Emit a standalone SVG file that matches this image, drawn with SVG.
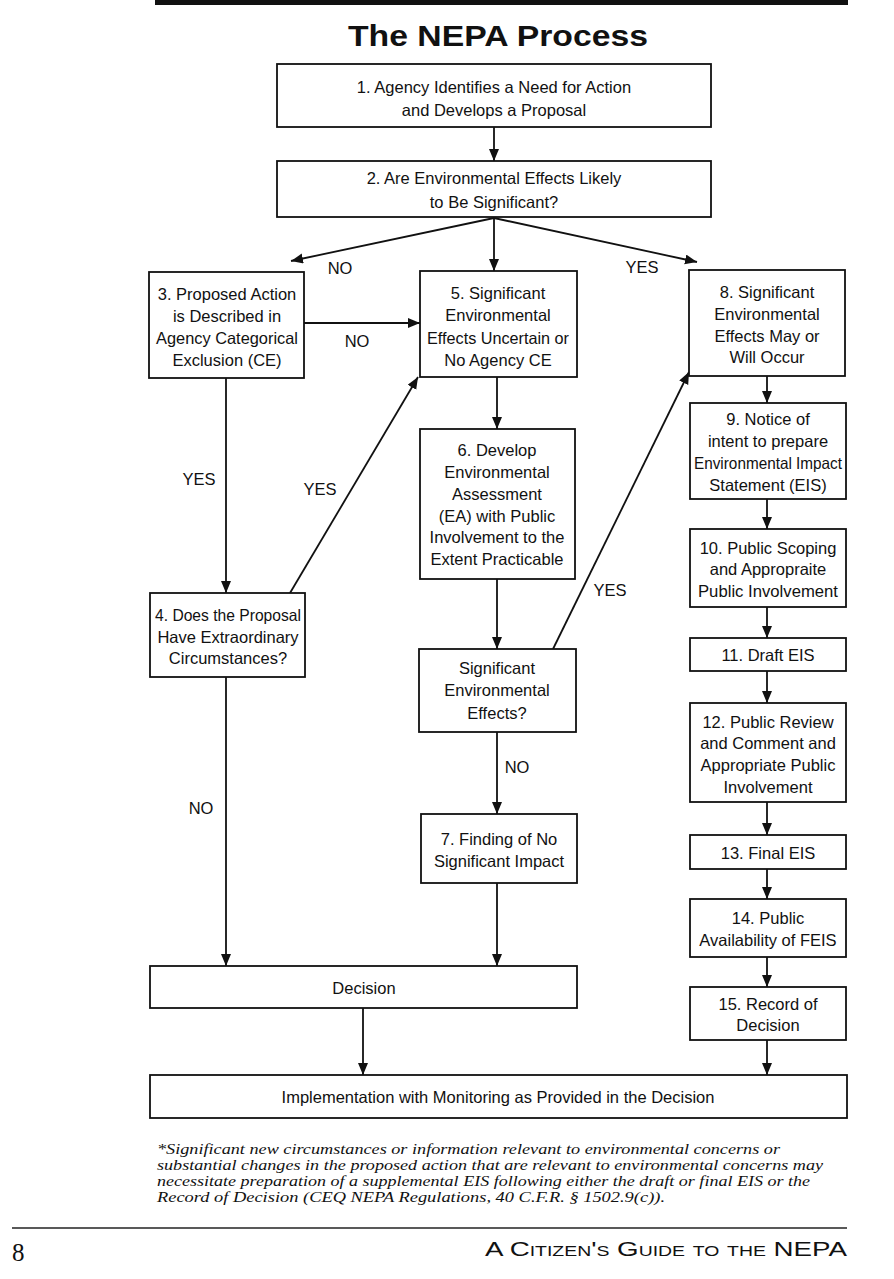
<svg xmlns="http://www.w3.org/2000/svg" width="894" height="1279" viewBox="0 0 894 1279">
<style>
.box{fill:#fff;stroke:#111;stroke-width:1.8}
.t{font-family:"Liberation Sans",Arial,sans-serif;font-size:16.5px;fill:#111;text-anchor:middle}
.c{stroke:#111;stroke-width:1.8;fill:none;marker-end:url(#ah)}
.fn{font-family:"Liberation Serif","Times New Roman",serif;font-style:italic;font-size:14px;fill:#111}
</style>
<defs>
<marker id="ah" markerUnits="userSpaceOnUse" markerWidth="14" markerHeight="12" refX="12" refY="5" orient="auto">
<path d="M0,0 L12,5 L0,10 Z" fill="#111"/>
</marker>
</defs>
<rect width="894" height="1279" fill="#fff"/>
<rect x="155" y="0" width="693" height="5" fill="#111"/>
<text x="498" y="46" font-family="Liberation Sans,Arial,sans-serif" font-weight="bold" font-size="29" fill="#111" text-anchor="middle" textLength="300" lengthAdjust="spacingAndGlyphs">The NEPA Process</text>

<g id="connectors">
<line class="c" x1="494" y1="127" x2="494" y2="161"/>
<line class="c" x1="494" y1="218" x2="291" y2="261"/>
<line class="c" x1="494" y1="218" x2="494" y2="271"/>
<line class="c" x1="494" y1="218" x2="697" y2="262"/>
<line class="c" x1="304" y1="323" x2="420" y2="323"/>
<line class="c" x1="226" y1="378" x2="226" y2="593"/>
<line class="c" x1="290" y1="593" x2="418" y2="377"/>
<line class="c" x1="226" y1="677" x2="226" y2="966"/>
<line class="c" x1="497" y1="377" x2="497" y2="429"/>
<line class="c" x1="497" y1="579" x2="497" y2="649"/>
<line class="c" x1="553" y1="649" x2="689" y2="372"/>
<line class="c" x1="497" y1="732" x2="497" y2="814"/>
<line class="c" x1="497" y1="883" x2="497" y2="966"/>
<line class="c" x1="363" y1="1008" x2="363" y2="1075"/>
<line class="c" x1="767" y1="376" x2="767" y2="403"/>
<line class="c" x1="767" y1="499" x2="767" y2="529"/>
<line class="c" x1="767" y1="607" x2="767" y2="638"/>
<line class="c" x1="767" y1="671" x2="767" y2="703"/>
<line class="c" x1="767" y1="802" x2="767" y2="835"/>
<line class="c" x1="767" y1="869" x2="767" y2="899"/>
<line class="c" x1="767" y1="957" x2="767" y2="987"/>
<line class="c" x1="767" y1="1040" x2="767" y2="1075"/>
<text class="t" x="340" y="274">NO</text>
<text class="t" x="642" y="273">YES</text>
<text class="t" x="357" y="347">NO</text>
<text class="t" x="199" y="485">YES</text>
<text class="t" x="320" y="495">YES</text>
<text class="t" x="610" y="596">YES</text>
<text class="t" x="517" y="773">NO</text>
<text class="t" x="201" y="814">NO</text>
</g>

<g id="n1"><rect class="box" x="277" y="64" width="434" height="63"/>
<text class="t" x="494" y="93">1. Agency Identifies a Need for Action</text>
<text class="t" x="494" y="116">and Develops a Proposal</text></g>

<g id="n2"><rect class="box" x="277" y="161" width="434" height="56"/>
<text class="t" x="494" y="184">2. Are Environmental Effects Likely</text>
<text class="t" x="494" y="208">to Be Significant?</text></g>

<g id="n3"><rect class="box" x="149" y="272" width="155" height="106"/>
<text class="t" x="227" y="300">3. Proposed Action</text>
<text class="t" x="227" y="322">is Described in</text>
<text class="t" x="227" y="344" textLength="142" lengthAdjust="spacingAndGlyphs">Agency Categorical</text>
<text class="t" x="227" y="366">Exclusion (CE)</text></g>

<g id="n5"><rect class="box" x="420" y="271" width="157" height="106"/>
<text class="t" x="498" y="299">5. Significant</text>
<text class="t" x="498" y="321">Environmental</text>
<text class="t" x="498" y="344" textLength="142" lengthAdjust="spacingAndGlyphs">Effects Uncertain or</text>
<text class="t" x="498" y="366">No Agency CE</text></g>

<g id="n8"><rect class="box" x="689" y="270" width="156" height="106"/>
<text class="t" x="767" y="298">8. Significant</text>
<text class="t" x="767" y="320">Environmental</text>
<text class="t" x="767" y="342">Effects May or</text>
<text class="t" x="767" y="363">Will Occur</text></g>

<g id="n4"><rect class="box" x="150" y="593" width="155" height="84"/>
<text class="t" x="228" y="621" textLength="146" lengthAdjust="spacingAndGlyphs">4. Does the Proposal</text>
<text class="t" x="228" y="643">Have Extraordinary</text>
<text class="t" x="228" y="664">Circumstances?</text></g>

<g id="n6"><rect class="box" x="420" y="429" width="155" height="150"/>
<text class="t" x="497" y="456">6. Develop</text>
<text class="t" x="497" y="478">Environmental</text>
<text class="t" x="497" y="500">Assessment</text>
<text class="t" x="497" y="522">(EA) with Public</text>
<text class="t" x="497" y="543">Involvement to the</text>
<text class="t" x="497" y="565">Extent Practicable</text></g>

<g id="nS"><rect class="box" x="419" y="649" width="157" height="83"/>
<text class="t" x="497" y="674">Significant</text>
<text class="t" x="497" y="696">Environmental</text>
<text class="t" x="497" y="719">Effects?</text></g>

<g id="n7"><rect class="box" x="421" y="814" width="156" height="69"/>
<text class="t" x="499" y="845">7. Finding of No</text>
<text class="t" x="499" y="867">Significant Impact</text></g>

<g id="n9"><rect class="box" x="690" y="403" width="156" height="96"/>
<text class="t" x="768" y="425">9. Notice of</text>
<text class="t" x="768" y="447">intent to prepare</text>
<text class="t" x="768" y="469" textLength="148" lengthAdjust="spacingAndGlyphs">Environmental Impact</text>
<text class="t" x="768" y="491">Statement (EIS)</text></g>

<g id="n10"><rect class="box" x="690" y="529" width="156" height="78"/>
<text class="t" x="768" y="554">10. Public Scoping</text>
<text class="t" x="768" y="575">and Appropraite</text>
<text class="t" x="768" y="597" textLength="140" lengthAdjust="spacingAndGlyphs">Public Involvement</text></g>

<g id="n11"><rect class="box" x="690" y="638" width="156" height="33"/>
<text class="t" x="768" y="661">11. Draft EIS</text></g>

<g id="n12"><rect class="box" x="690" y="703" width="156" height="99"/>
<text class="t" x="768" y="728">12. Public Review</text>
<text class="t" x="768" y="749">and Comment and</text>
<text class="t" x="768" y="771">Appropriate Public</text>
<text class="t" x="768" y="793">Involvement</text></g>

<g id="n13"><rect class="box" x="690" y="835" width="156" height="34"/>
<text class="t" x="768" y="859">13. Final EIS</text></g>

<g id="n14"><rect class="box" x="690" y="899" width="156" height="58"/>
<text class="t" x="768" y="924">14. Public</text>
<text class="t" x="768" y="946">Availability of FEIS</text></g>

<g id="n15"><rect class="box" x="690" y="987" width="156" height="53"/>
<text class="t" x="768" y="1010">15. Record of</text>
<text class="t" x="768" y="1031">Decision</text></g>

<g id="nDecision"><rect class="box" x="150" y="966" width="427" height="42"/>
<text class="t" x="364" y="994">Decision</text></g>

<g id="nImpl"><rect class="box" x="150" y="1075" width="697" height="43"/>
<text class="t" x="498" y="1103">Implementation with Monitoring as Provided in the Decision</text></g>

<g id="footnote">
<text class="fn" x="157" y="1154" textLength="623" lengthAdjust="spacingAndGlyphs">*Significant new circumstances or information relevant to environmental concerns or</text>
<text class="fn" x="157" y="1170" textLength="666" lengthAdjust="spacingAndGlyphs">substantial changes in the proposed action that are relevant to environmental concerns may</text>
<text class="fn" x="157" y="1186" textLength="653" lengthAdjust="spacingAndGlyphs">necessitate preparation of a supplemental EIS following either the draft or final EIS or the</text>
<text class="fn" x="157" y="1202" textLength="508" lengthAdjust="spacingAndGlyphs">Record of Decision (CEQ NEPA Regulations, 40 C.F.R. § 1502.9(c)).</text>
</g>

<g id="footer">
<line x1="12" y1="1228" x2="847" y2="1228" stroke="#222" stroke-width="1.5"/>
<text x="12" y="1261" font-family="Liberation Serif,serif" font-size="25" fill="#111">8</text>
<text x="847" y="1256" font-family="Liberation Sans,Arial,sans-serif" font-size="20" font-variant="small-caps" fill="#111" text-anchor="end" textLength="362" lengthAdjust="spacingAndGlyphs">A Citizen's Guide to the NEPA</text>
</g>
</svg>
